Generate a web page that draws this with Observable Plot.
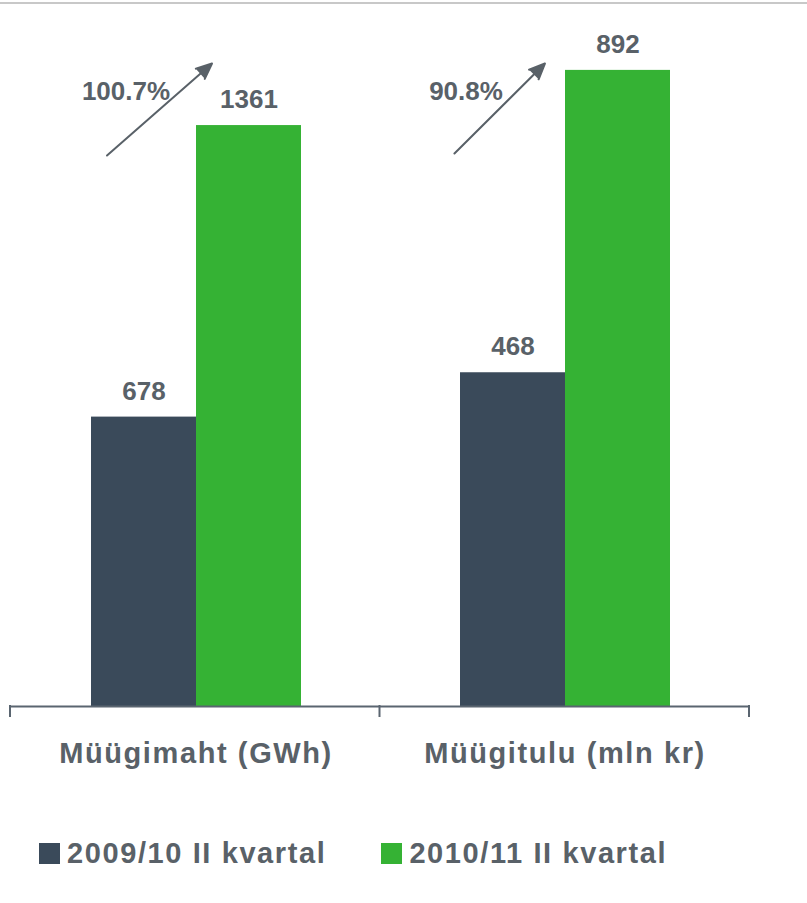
<!DOCTYPE html>
<html><head><meta charset="utf-8">
<script src="https://cdn.jsdelivr.net/npm/d3@7"></script>
<script src="https://cdn.jsdelivr.net/npm/@observablehq/plot@0.6"></script>
<style>
body{margin:0;background:#fff;width:807px;height:903px;position:relative;overflow:hidden;font-family:"Liberation Sans",Arial,sans-serif;}
#chart{position:absolute;left:0;top:0;}
#topline{position:absolute;left:0;top:2px;width:807px;height:2px;background:#c8c8c8;z-index:2;}
#legend{position:absolute;left:39px;top:839px;display:flex;align-items:center;gap:55px;font-size:29px;font-weight:bold;letter-spacing:1.6px;color:#596168;line-height:28px;white-space:nowrap;}
.item{display:flex;align-items:center;}
.sw{width:21px;height:21px;margin-right:7px;flex:none;}
</style></head><body>
<div id="chart"></div>
<div id="topline"></div>
<div id="legend"></div>
<script>
// ---- data ----
const groups = ["Müügimaht (GWh)", "Müügitulu (mln kr)"];
const series = ["2009/10 II kvartal", "2010/11 II kvartal"];
const values2009 = [678, 468];
const values2010 = [1361, 892];
const groupAxisMax = [1654, 990];   // each category has its own value axis
const growthLabels = ["100.7%", "90.8%"];
const seriesColors = ["#3a4a5a", "#35b234"];

const textColor = "#596168";
const axisColor = "#5a6570";

const rows = groups.flatMap((g, i) => [
  {group: g, series: series[0], value: values2009[i], share: values2009[i] / groupAxisMax[i]},
  {group: g, series: series[1], value: values2010[i], share: values2010[i] / groupAxisMax[i]}
]);
const growth = groups.map((g, i) => ({group: g, label: growthLabels[i], from: series[0], to: series[1]}));

function annotation(i, o) {
  const d = [growth[i]];
  return [
    Plot.arrow(d, {fx: "group", x1: "from", x2: "to", y1: () => o.y1, y2: () => o.y2, dx: o.arrowDx,
      insetStart: o.insetStart || 0, insetEnd: o.insetEnd || 0,
      stroke: textColor, fill: textColor, strokeWidth: 2, headLength: 12.75, headAngle: 47}),
    Plot.text(d, {fx: "group", x: "from", frameAnchor: "top", dy: 99, dx: o.textDx, text: "label",
      lineAnchor: "bottom", fontSize: 26, fontWeight: "bold", fill: textColor})
  ];
}

const plot = Plot.plot({
  width: 807,
  height: 800,
  marginLeft: 10,
  marginRight: 58,
  marginTop: 0,
  marginBottom: 94,
  style: {fontFamily: "'Liberation Sans', Arial, sans-serif", fontSize: "28px", fontWeight: "bold", color: textColor, background: "white"},
  fx: {domain: groups, padding: 0, label: null, tickSize: 0, tickPadding: 36, axis: "bottom"},
  x: {domain: series, paddingInner: 0, paddingOuter: 0.75, axis: null},
  y: {domain: [0, 1], axis: null},
  color: {domain: series, range: seriesColors},
  marks: [
    Plot.barY(rows, {fx: "group", x: "series", y: "share", fill: "series", inset: 0}),
    Plot.ruleY([0], {stroke: axisColor, strokeWidth: 2}),
    Plot.text(rows, {fx: "group", x: "series", y: "share", text: d => String(d.value), dy: -17.5,
      lineAnchor: "bottom", fontSize: 26, fontWeight: "bold", fill: textColor}),
    ...annotation(0, {arrowDx: -37, y1: 0.7805, y2: 0.9108, textDx: -18}),
    ...annotation(1, {arrowDx: -66, y1: 0.7728, y2: 0.9207, insetStart: 10.5, insetEnd: 10, textDx: -47})
  ]
});
document.getElementById("chart").appendChild(plot);

// style category labels
const svg = d3.select(plot);
svg.selectAll("text").filter(function () { return groups.includes(this.textContent); })
  .attr("font-size", 29).attr("font-weight", "bold").attr("letter-spacing", 1.6)
  .attr("fill", textColor).attr("font-family", "'Liberation Sans', Arial, sans-serif");

// category boundary ticks below the baseline
const fxs = plot.scale("fx");
const band = d3.scaleBand().domain(fxs.domain).range(fxs.range)
  .paddingInner(fxs.paddingInner ?? 0).paddingOuter(fxs.paddingOuter ?? 0).align(fxs.align ?? 0.5);
const yScale = plot.scale("y");
const y0 = yScale.apply ? yScale.apply(0) : yScale.range[0];
const edges = [...band.domain().map(d => band(d)), band(band.domain().at(-1)) + band.bandwidth()];
svg.append("g").selectAll("line").data(edges).join("line")
  .attr("x1", d => d).attr("x2", d => d).attr("y1", y0 - 1).attr("y2", y0 + 11)
  .attr("stroke", axisColor).attr("stroke-width", 2);

// legend
const legend = d3.select("#legend");
series.forEach((s, i) => {
  const item = legend.append("div").attr("class", "item");
  item.append("div").attr("class", "sw").style("background", seriesColors[i]);
  item.append("span").text(s);
});
</script>
</body></html>
